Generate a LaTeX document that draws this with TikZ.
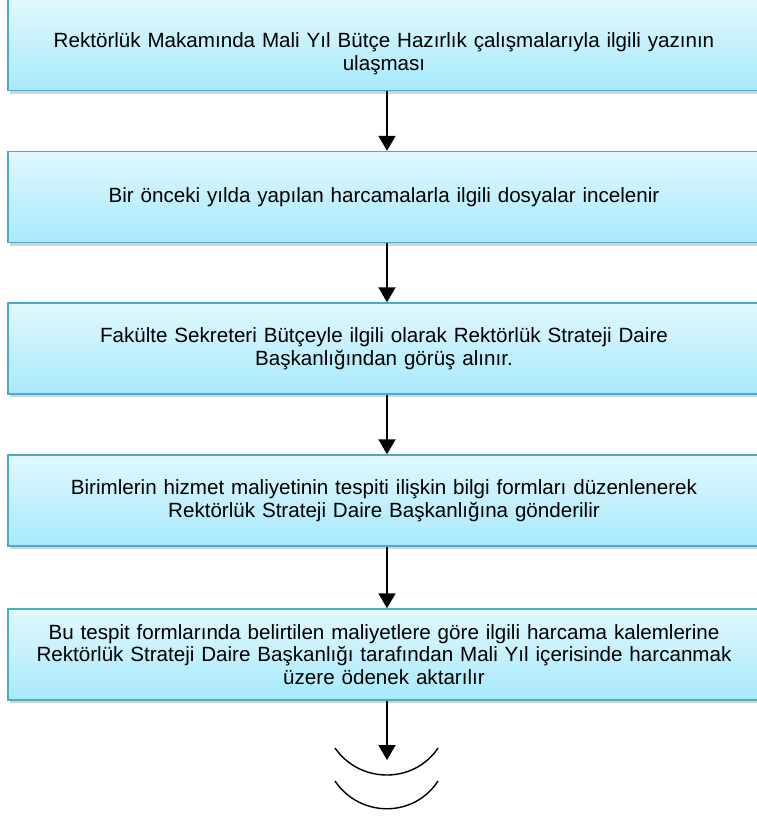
\documentclass[tikz,border=0pt]{standalone}
\usepackage{fontspec}
\setmainfont{Liberation Sans}
\usetikzlibrary{arrows.meta,shadows}

\definecolor{boxtop}{RGB}{226,248,254}
\definecolor{boxbottom}{RGB}{166,233,251}
\definecolor{boxline}{RGB}{75,172,198}

\begin{document}
\begin{tikzpicture}[x=1pt,y=-1pt,
    stepbox/.style={draw=boxline,line width=1.5pt,top color=boxtop,bottom color=boxbottom,
      minimum width=752pt,minimum height=91pt,text width=730pt,align=center,
      font=\fontsize{20.6}{22.5}\selectfont,
      drop shadow={opacity=0.35,shadow xshift=2pt,shadow yshift=-3pt}},
    flow/.style={line width=2pt,-{Triangle[width=17pt,length=15pt]}},
    wave/.style={line width=1.4pt}]
  \useasboundingbox (0,0) rectangle (756,816);
            \coordinate (axis) at (387,0);
            \node[stepbox,text height=32pt] (yazi) at (384,45) {Rektörlük Makamında Mali Yıl Bütçe Hazırlık çalışmalarıyla ilgili yazının\\ulaşması};
            \node[stepbox] (dosya) at (384,197) {Bir önceki yılda yapılan harcamalarla ilgili dosyalar incelenir};
            \node[stepbox] (gorus) at (384,348.5) {Fakülte Sekreteri Bütçeyle ilgili olarak Rektörlük Strateji Daire\\Başkanlığından görüş alınır.};
            \node[stepbox] (form) at (384,500.5) {Birimlerin hizmet maliyetinin tespiti ilişkin bilgi formları düzenlenerek\\Rektörlük Strateji Daire Başkanlığına gönderilir};
            \node[stepbox] (odenek) at (384,654.5) {Bu tespit formlarında belirtilen maliyetlere göre ilgili harcama kalemlerine\\Rektörlük Strateji Daire Başkanlığı tarafından Mali Yıl içerisinde harcanmak\\üzere ödenek aktarılır};
            \coordinate (son) at (387,760);
            \draw[flow] (yazi.south -| axis) -- (dosya.north -| axis);
            \draw[flow] (dosya.south -| axis) -- (gorus.north -| axis);
            \draw[flow] (gorus.south -| axis) -- (form.north -| axis);
            \draw[flow] (form.south -| axis) -- (odenek.north -| axis);
            \draw[flow] (odenek.south -| axis) -- (son);
            % devam isareti
            \draw[wave] (335,748) .. controls (360,784) and (414,784) .. (438,748);
            \draw[wave] (335,781) .. controls (360,818) and (414,818) .. (438,781);
        \end{tikzpicture}
\end{document}
